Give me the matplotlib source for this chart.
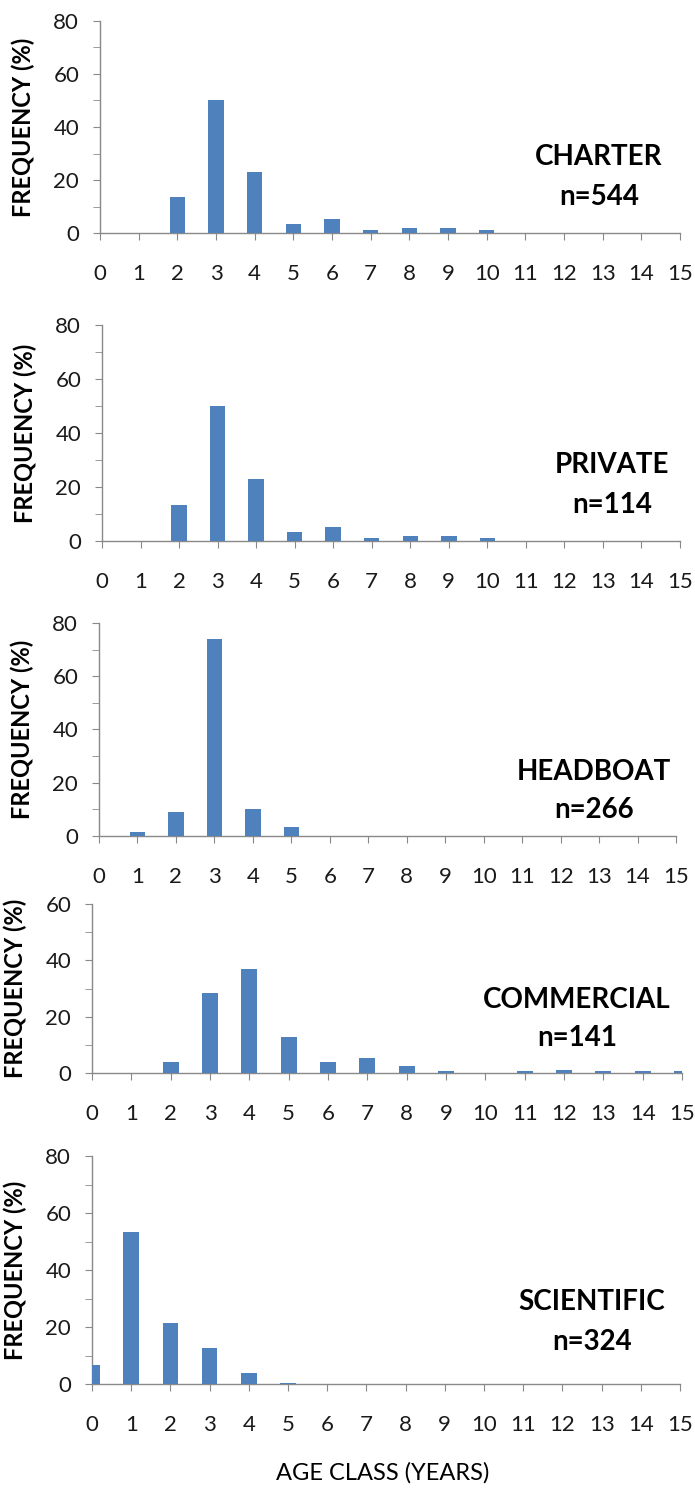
import matplotlib
matplotlib.use("Agg")
import matplotlib.pyplot as plt
import numpy as np

plt.rcParams['font.family'] = ['Lato', 'DejaVu Sans']

ages = list(range(16))
charter = [0, 0, 13.5, 50, 23, 3.5, 5.2, 1, 1.8, 1.8, 1, 0, 0, 0, 0, 0]
private = [0, 0, 13.5, 50, 23, 3.5, 5.2, 1, 1.8, 1.8, 1, 0, 0, 0, 0, 0]
headboat = [0, 1.5, 9.2, 74, 10, 3.2, 0, 0, 0, 0, 0, 0, 0, 0, 0, 0]
commercial = [0, 0, 3.8, 28.5, 37, 12.7, 3.8, 5.3, 2.6, 0.6, 0, 0.6, 1.1, 0.6, 0.6, 0.6]
scientific = [6.5, 53.5, 21.5, 12.5, 3.7, 0.5, 0, 0, 0, 0, 0, 0, 0, 0, 0, 0]

names = ["CHARTER", "PRIVATE", "HEADBOAT", "COMMERCIAL", "SCIENTIFIC"]
counts = ["n=544", "n=114", "n=266", "n=141", "n=324"]
series = [charter, private, headboat, commercial, scientific]
ymaxes = [80, 80, 80, 60, 80]

W, H = 695, 1488
fig = plt.figure(figsize=(W / 100, H / 100), dpi=100)

# pixel layout: left, right, top(ymax), bottom(0)
rects = [(100, 680, 21, 233), (102, 680, 325, 541), (99, 676, 623, 836),
         (92, 682, 904, 1073), (92, 680, 1156, 1384)]
labelpos = [(599, 157, 197), (612, 465, 505), (594, 772, 810),
            (577, 1000, 1038), (592, 1302, 1342)]

bar_color = "#4F81BD"
axis_color = "#898989"

for i, (vals, ymax) in enumerate(zip(series, ymaxes)):
    l, r, t, b = rects[i]
    ax = fig.add_axes([l / W, 1 - b / H, (r - l) / W, (b - t) / H])
    ax.bar(ages, vals, width=0.4, color=bar_color, zorder=3)
    ax.set_xlim(0, 15)
    ax.set_ylim(0, ymax)
    ax.set_xticks(ages)
    ax.set_xticklabels([str(a) for a in ages])
    ax.set_yticks(np.arange(0, ymax + 1, 20))
    ax.set_yticks(np.arange(10, ymax, 20), minor=True)
    for s in ["top", "right"]:
        ax.spines[s].set_visible(False)
    for s in ["left", "bottom"]:
        ax.spines[s].set_color(axis_color)
        ax.spines[s].set_linewidth(1.0)
    ax.tick_params(axis='x', which='major', direction='out', length=5, color=axis_color,
                   labelsize=16, pad=17, labelcolor="#1a1a1a")
    ax.tick_params(axis='y', which='major', direction='out', length=5, color=axis_color,
                   labelsize=16, pad=10, labelcolor="#1a1a1a")
    ax.tick_params(axis='y', which='minor', direction='out', length=5, color=axis_color)
    ax.set_ylabel("FREQUENCY (%)", fontsize=17, fontweight='bold', labelpad=13)
    x, y1, y2 = labelpos[i]
    fig.text(x / W, 1 - y1 / H, names[i], ha='center', va='center', fontsize=20,
             fontweight='bold')
    fig.text(x / W, 1 - y2 / H, counts[i], ha='center', va='center', fontsize=20,
             fontweight='bold')

fig.text(383 / W, 1 - 1473 / H, "AGE CLASS (YEARS)", ha='center', va='center',
         fontsize=17)

fig.savefig("out.png", dpi=100, facecolor="white")
